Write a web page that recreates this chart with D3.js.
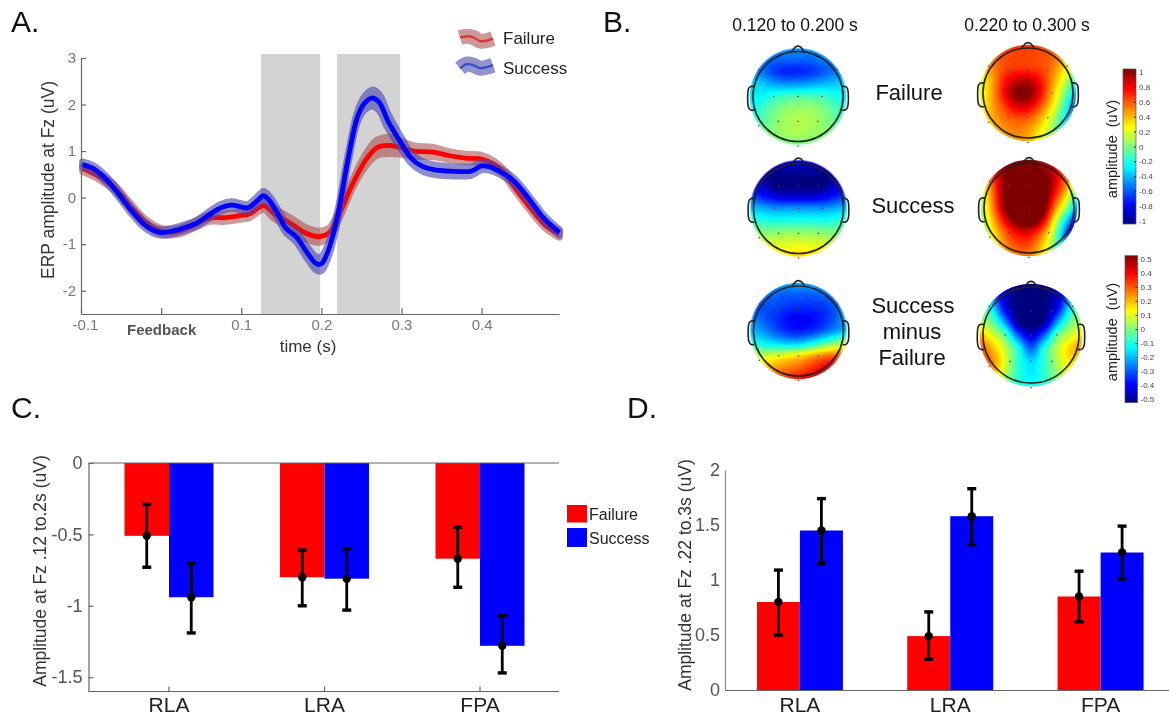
<!DOCTYPE html>
<html lang="en">
<head>
<meta charset="UTF-8">
<title>ERP figure</title>
<script src="https://d3js.org/d3.v7.min.js"></script>
<style>
  html, body { margin: 0; padding: 0; background: #fff; }
  svg { display: block; filter: blur(0.55px); }
  text { font-family: "Liberation Sans", Arial, sans-serif; }
</style>
</head>
<body>
<svg id="fig" width="1169" height="716"></svg>
<script>
// Panel A: ERP curves
var successTime = [-0.098,-0.085,-0.07,-0.055,-0.037,-0.022,-0.01,0,0.016,0.03,0.045,0.06,0.074,0.088,0.1,0.108,0.118,0.128,0.136,0.146,0.156,0.169,0.183,0.194,0.2,0.206,0.2125,0.2208,0.233,0.245,0.254,0.263,0.272,0.283,0.3,0.312,0.325,0.34,0.36,0.387,0.4,0.41,0.425,0.44,0.458,0.477,0.497];
var successErp = [0.71,0.63,0.42,0.12,-0.28,-0.56,-0.70,-0.75,-0.71,-0.64,-0.54,-0.37,-0.22,-0.16,-0.20,-0.22,-0.10,0.04,-0.08,-0.36,-0.66,-0.85,-1.20,-1.42,-1.42,-1.25,-0.93,-0.35,0.80,1.73,2.03,2.14,2.05,1.65,1.16,0.85,0.68,0.60,0.57,0.57,0.68,0.66,0.54,0.36,0,-0.43,-0.75];
var successSem = [0.06,0.06,0.06,0.06,0.06,0.06,0.06,0.06,0.06,0.06,0.06,0.07,0.07,0.07,0.07,0.07,0.08,0.09,0.09,0.09,0.09,0.1,0.12,0.14,0.15,0.14,0.12,0.09,0.08,0.1,0.14,0.17,0.17,0.15,0.12,0.1,0.1,0.1,0.1,0.09,0.08,0.07,0.06,0.06,0.06,0.06,0.06];
var failureTime = [-0.098,-0.08,-0.06,-0.04,-0.02,0,0.02,0.04,0.06,0.08,0.1,0.11,0.128,0.14,0.1625,0.179,0.197,0.21,0.22,0.24,0.258,0.27,0.287,0.3,0.316,0.34,0.36,0.38,0.4,0.415,0.43,0.44,0.46,0.48,0.497];
var failureErp = [0.62,0.48,0.24,-0.15,-0.52,-0.72,-0.73,-0.6,-0.44,-0.43,-0.38,-0.35,-0.17,-0.33,-0.56,-0.75,-0.84,-0.75,-0.45,0.33,0.87,1.08,1.12,1.07,1.0,0.98,0.9,0.85,0.83,0.72,0.5,0.25,-0.2,-0.6,-0.78];
var failureSem = [0.06,0.06,0.06,0.06,0.06,0.06,0.06,0.06,0.07,0.08,0.08,0.08,0.08,0.1,0.11,0.12,0.12,0.1,0.08,0.08,0.13,0.16,0.17,0.14,0.11,0.1,0.08,0.08,0.08,0.07,0.06,0.06,0.06,0.06,0.07];
var shadedWindows = [[0.1247,0.1984],[0.2196,0.2983]];
var erpXTicks = [-0.1,0,0.1,0.2,0.3,0.4];
var erpYTicks = [-2,-1,0,1,2,3];
var waveSteps = [0,0.2,0.4,0.6,0.8,1];
var failureWave = [0.45,0.2,0.4,1.0,0.95,0.6];
var successWave = [0.9,0.2,0.35,0.85,0.7,0.35];

// Panels C and D: bars and error bars
var conditions = ["RLA","LRA","FPA"];
var earlyFailure = [-0.51,-0.80,-0.67];
var earlySuccess = [-0.94,-0.81,-1.28];
var earlyFailureHi = [-0.29,-0.61,-0.45];
var earlyFailureLo = [-0.73,-1.00,-0.87];
var earlySuccessHi = [-0.70,-0.60,-1.07];
var earlySuccessLo = [-1.19,-1.03,-1.47];
var lateFailure = [0.80,0.49,0.85];
var lateSuccess = [1.45,1.58,1.25];
var lateFailureHi = [1.09,0.71,1.08];
var lateFailureLo = [0.50,0.28,0.62];
var lateSuccessHi = [1.74,1.83,1.49];
var lateSuccessLo = [1.15,1.32,1.01];
var earlyTicks = [0,-0.5,-1,-1.5];
var lateTicks = [0,0.5,1,1.5,2];

// Panel B: scalp maps, coarse 9 x 9 grids estimated from the colours
var mapFailureEarly = [
  [-.45,-.45,-.45,-.45,-.45,-.45,-.45,-.45,-.45],
  [-.5,-.5,-.55,-.55,-.55,-.55,-.5,-.5,-.5],
  [-.4,-.5,-.62,-.68,-.68,-.65,-.58,-.5,-.4],
  [-.3,-.35,-.42,-.45,-.45,-.42,-.38,-.35,-.3],
  [-.3,-.25,-.18,-.12,-.1,-.1,-.13,-.2,-.3],
  [-.25,-.15,-.05,.02,.05,.05,0,-.1,-.2],
  [-.2,-.1,0,.07,.1,.08,.03,-.05,-.15],
  [-.1,-.05,.02,.06,.08,.06,.03,-.03,-.1],
  [-.03,-.02,-.02,-.02,-.02,-.02,-.02,-.02,-.03]];
var mapFailureLate = [
  [.55,.6,.62,.65,.65,.62,.55,.45,.3],
  [.3,.5,.6,.62,.62,.6,.55,.38,.15],
  [.2,.45,.6,.65,.65,.62,.5,.28,.05],
  [.2,.4,.68,.85,.88,.72,.45,.15,-.2],
  [.18,.4,.72,.98,1,.75,.38,0,-.4],
  [.2,.4,.62,.82,.82,.6,.28,-.15,-.6],
  [.2,.38,.52,.6,.58,.42,.12,-.25,-.65],
  [.2,.35,.45,.5,.45,.28,.05,-.3,-.6],
  [.15,.3,.42,.45,.4,.2,0,-.25,-.45]];
var mapSuccessEarly = [
  [-.8,-.8,-.8,-.8,-.8,-.8,-.8,-.8,-.8],
  [-.85,-.9,-.95,-.95,-.95,-.95,-.95,-.9,-.85],
  [-.75,-.85,-1,-1,-1,-1,-1,-.85,-.75],
  [-.6,-.7,-.8,-.85,-.85,-.85,-.8,-.7,-.6],
  [-.35,-.4,-.45,-.45,-.45,-.45,-.45,-.4,-.35],
  [-.15,-.18,-.2,-.2,-.2,-.2,-.2,-.18,-.15],
  [0,.03,.03,.05,.05,.05,.03,0,-.03],
  [.15,.18,.2,.2,.22,.2,.2,.15,.1],
  [.25,.28,.3,.33,.35,.33,.3,.25,.2]];
var mapSuccessLate = [
  [.7,.8,.9,1,1,.9,.75,.5,.2],
  [.4,.7,.95,1.1,1.1,1,.85,.55,.2],
  [.2,.55,1,1.3,1.3,1.2,.85,.5,0],
  [.1,.5,1,1.3,1.3,1.2,.75,.3,-.2],
  [.05,.45,.95,1.3,1.3,1.15,.55,.05,-.5],
  [0,.35,.75,1.05,1.15,.9,.3,-.3,-.8],
  [-.05,.25,.55,.75,.78,.55,.1,-.55,-1],
  [0,.2,.45,.6,.6,.38,0,-.5,-.8],
  [0,.2,.4,.5,.5,.3,.05,-.3,-.5]];
var mapDiffEarly = [
  [-.2,-.2,-.2,-.2,-.2,-.2,-.2,-.2,-.2],
  [-.25,-.25,-.27,-.28,-.28,-.28,-.27,-.25,-.25],
  [-.28,-.3,-.3,-.32,-.33,-.33,-.32,-.28,-.2],
  [-.22,-.28,-.32,-.36,-.38,-.37,-.34,-.28,-.2],
  [-.18,-.22,-.28,-.33,-.35,-.33,-.28,-.22,-.17],
  [-.1,-.12,-.15,-.17,-.17,-.12,-.05,.02,.08],
  [.05,.07,.09,.12,.15,.2,.25,.28,.3],
  [.15,.18,.22,.25,.28,.33,.38,.42,.42],
  [.25,.28,.3,.33,.37,.4,.45,.45,.42]];
var mapDiffLate = [
  [-.2,-.3,-.4,-.5,-.5,-.5,-.4,-.3,-.2],
  [-.1,-.25,-.42,-.5,-.52,-.5,-.42,-.25,-.1],
  [-.02,-.12,-.38,-.5,-.55,-.5,-.38,-.12,-.02],
  [.05,-.02,-.22,-.48,-.55,-.48,-.22,-.02,.05],
  [.2,.1,-.03,-.28,-.42,-.28,-.03,.08,.15],
  [.3,.2,.07,-.1,-.28,-.1,.06,.17,.22],
  [.32,.25,.1,-.08,-.16,-.08,.05,.15,.17],
  [.33,.22,.06,-.08,-.14,-.08,.02,.1,.1],
  [.25,.12,0,-.08,-.1,-.08,-.03,.03,.05]];
var electrodeX = [-.44,0,.44,-.54,0,.54,-.44,0,.44,-.87,-.87,0,.87];
var electrodeY = [-.5,-.5,-.5,0,0,0,.55,.55,.55,-.6,.65,1.1,-.6];
var wideTicks = [1,.8,.6,.4,.2,0,-.2,-.4,-.6,-.8,-1];
var narrowTicks = [.5,.4,.3,.2,.1,0,-.1,-.2,-.3,-.4,-.5];
var jetStops = ["#00007f","#0000ff","#007fff","#00ffff","#7fff7f","#ffff00","#ff7f00","#ff0000","#7f0000"];

var RED = "#ff0000", BLUE = "#0000ff";
var svg = d3.select("#fig");

function panelLetter(s, x, y) {
  svg.append("text").attr("x", x).attr("y", y).attr("font-size", 30).attr("fill", "#111").text(s);
}
panelLetter("A.", 11, 32);
panelLetter("B.", 603, 32);
panelLetter("C.", 11, 418);
panelLetter("D.", 627, 418);

// ---------- Panel A ----------
var xErp = d3.scaleLinear().domain([-0.1, 0.4966]).range([81, 559]);
var yErp = d3.scaleLinear().domain([-2.5, 3]).range([314, 58]);
var gA = svg.append("g");

gA.selectAll("rect.win").data(shadedWindows).enter().append("rect")
  .attr("class", "win")
  .attr("x", function(d) { return xErp(d[0]); })
  .attr("width", function(d) { return xErp(d[1]) - xErp(d[0]); })
  .attr("y", 54).attr("height", 260)
  .attr("fill", "#d3d3d3");

function drawErp(time, erp, sem, lineColor, bandColor, bandOpacity) {
  var pts = time.map(function(t, i) { return {t: t, v: erp[i], s: sem[i]}; });
  var area = d3.area().curve(d3.curveCatmullRom)
    .x(function(d) { return xErp(d.t); })
    .y0(function(d) { return yErp(d.v - d.s); })
    .y1(function(d) { return yErp(d.v + d.s); });
  var line = d3.line().curve(d3.curveCatmullRom)
    .x(function(d) { return xErp(d.t); })
    .y(function(d) { return yErp(d.v); });
  gA.append("path").datum(pts).attr("d", area)
    .attr("fill", bandColor).attr("stroke", bandColor).attr("stroke-width", 7)
    .attr("stroke-linejoin", "round").attr("opacity", bandOpacity);
  gA.append("path").datum(pts).attr("d", line)
    .attr("fill", "none").attr("stroke", lineColor).attr("stroke-width", 4.8);
}
drawErp(failureTime, failureErp, failureSem, RED, "#a84444", 0.55);
drawErp(successTime, successErp, successSem, BLUE, "#4a4aae", 0.62);

var axA = gA.append("g").attr("transform", "translate(0,314)")
  .call(d3.axisBottom(xErp).tickValues(erpXTicks).tickSize(-6).tickSizeOuter(0).tickPadding(5)
    .tickFormat(function(d) { return d === 0 ? "Feedback" : d.toFixed(1); }));
axA.selectAll("text").attr("font-size", 15).attr("fill", "#777")
  .attr("font-family", "Liberation Sans");
axA.selectAll("text").filter(function(d) { return d === 0; })
  .attr("font-weight", "bold").attr("fill", "#555").attr("dy", "1.05em");
axA.selectAll("text").filter(function(d) { return d === -0.1; }).attr("dx", 4);
var ayA = gA.append("g").attr("transform", "translate(81,0)")
  .call(d3.axisLeft(yErp).tickValues(erpYTicks).tickSize(-5).tickSizeOuter(0).tickPadding(5)
    .tickFormat(function(d) { return String(d); }));
ayA.selectAll("text").attr("font-size", 15).attr("fill", "#777").attr("font-family", "Liberation Sans");
[axA, ayA].forEach(function(a) {
  a.selectAll("path,line").attr("stroke", "#666").attr("stroke-width", 1.2);
});

gA.append("text").attr("x", 308).attr("y", 351.5).attr("text-anchor", "middle")
  .attr("font-size", 17).attr("fill", "#333").text("time (s)");
gA.append("text").attr("transform", "translate(54,180) rotate(-90)").attr("text-anchor", "middle")
  .attr("font-size", 17.5).attr("fill", "#333").text("ERP amplitude at Fz (uV)");

// legend with little wavy bands
var xWave = d3.scaleLinear().domain([0, 1]).range([460, 493]);
function legendWave(wave, top, lineColor, bandColor, op, label, ty) {
  var yWave = d3.scaleLinear().domain([0, 1]).range([top, top + 6]);
  var pts = wave.map(function(v, i) { return [xWave(waveSteps[i]), yWave(v)]; });
  var l = d3.line().curve(d3.curveCatmullRom);
  gA.append("path").attr("d", l(pts)).attr("fill", "none").attr("stroke", bandColor)
    .attr("stroke-width", 15).attr("opacity", op);
  gA.append("path").attr("d", l(pts)).attr("fill", "none").attr("stroke", lineColor)
    .attr("stroke-width", 2.4).attr("opacity", 0.8);
  gA.append("text").attr("x", 503).attr("y", ty).attr("font-size", 17).attr("fill", "#222").text(label);
}
legendWave(failureWave, 35, "#e02020", "#a84444", 0.55, "Failure", 44);
legendWave(successWave, 63, "#2040c0", "#4a4aae", 0.6, "Success", 74);

// ---------- Panel B ----------
var gB = svg.append("g");
var wideColor = d3.scaleLinear().domain(d3.range(9).map(function(i) { return -1 + i * 0.25; }))
  .range(jetStops).clamp(true);
var narrowColor = d3.scaleLinear().domain(d3.range(9).map(function(i) { return -0.5 + i * 0.125; }))
  .range(jetStops).clamp(true);

function catmull(a, b, c, d, t) {
  return 0.5 * (2 * b + (c - a) * t + (2 * a - 5 * b + 4 * c - d) * t * t + (3 * b - a - 3 * c + d) * t * t * t);
}
function sampleGrid(grid, u, v) {
  var n = grid.length - 1;
  var fx = Math.max(0, Math.min(n - 1e-6, u * n)), fy = Math.max(0, Math.min(n - 1e-6, v * n));
  var ix = Math.floor(fx), iy = Math.floor(fy);
  function at(r, c) {
    return grid[Math.max(0, Math.min(n, r))][Math.max(0, Math.min(n, c))];
  }
  var col = [-1, 0, 1, 2].map(function(dr) {
    return catmull(at(iy + dr, ix - 1), at(iy + dr, ix), at(iy + dr, ix + 1), at(iy + dr, ix + 2), fx - ix);
  });
  return catmull(col[0], col[1], col[2], col[3], fy - iy);
}

function drawMap(grid, color, cx, cy, r) {
  var x = d3.scaleLinear().domain([-1, 1]).range([cx - r, cx + r]);
  var y = d3.scaleLinear().domain([-1, 1]).range([cy - r, cy + r]);
  var size = Math.ceil(r * 2.2) + 2;
  var cv = document.createElement("canvas");
  cv.width = size; cv.height = size;
  var ctx = cv.getContext("2d");
  ctx.beginPath();
  ctx.arc(size / 2, size / 2, r * 1.07, 0, 2 * Math.PI);
  ctx.clip();
  for (var py = 0; py < size; py++) {
    for (var px = 0; px < size; px++) {
      var nx = (px + 0.5 - size / 2) / r, ny = (py + 0.5 - size / 2) / r;
      if (nx * nx + ny * ny > 1.2) continue;
      ctx.fillStyle = color(sampleGrid(grid, (nx + 1.1) / 2.2, (ny + 1.1) / 2.2));
      ctx.fillRect(px, py, 1, 1);
    }
  }
  gB.append("image").attr("x", cx - size / 2).attr("y", cy - size / 2)
    .attr("width", size).attr("height", size).attr("href", cv.toDataURL());

  gB.selectAll(null).data(electrodeX).enter().append("circle")
    .attr("cx", function(d) { return x(d); })
    .attr("cy", function(d, i) { return y(electrodeY[i]); })
    .attr("r", 0.8).attr("fill", "#444");

  var head = d3.line().curve(d3.curveCatmullRom).x(function(d) { return x(d[0]); }).y(function(d) { return y(d[1]); });
  var outline = gB.append("g").attr("fill", "none").attr("stroke", "#222").attr("stroke-width", 1.6);
  outline.append("circle").attr("cx", cx).attr("cy", cy).attr("r", r);
  outline.append("path").attr("d", head([[-.15, -.98], [-.1, -1.05], [-.04, -1.11], [.04, -1.11], [.1, -1.05], [.15, -.98]]));
  outline.append("path").attr("d", head([[-.98, -.22], [-1.06, -.22], [-1.1, -.17], [-1.1, .24], [-1.05, .3], [-.98, .3]]));
  outline.append("path").attr("d", head([[.98, -.22], [1.06, -.22], [1.1, -.17], [1.1, .24], [1.05, .3], [.98, .3]]));
}
drawMap(mapFailureEarly, wideColor, 798, 96.5, 45);
drawMap(mapFailureLate, wideColor, 1028, 93, 45);
drawMap(mapSuccessEarly, wideColor, 798.5, 208.5, 45);
drawMap(mapSuccessLate, wideColor, 1029, 208, 45);
drawMap(mapDiffEarly, narrowColor, 798.5, 331, 45);
drawMap(mapDiffLate, narrowColor, 1031, 335, 48);

function bLabel(s, x, y, size) {
  gB.append("text").attr("x", x).attr("y", y).attr("text-anchor", "middle")
    .attr("font-size", size).attr("fill", "#111").text(s);
}
bLabel("0.120 to 0.200 s", 795, 31, 17.5);
bLabel("0.220 to 0.300 s", 1027, 31, 17.5);
bLabel("Failure", 909, 100, 22);
bLabel("Success", 913, 213, 22);
bLabel("Success", 913, 313, 22);
bLabel("minus", 912, 339, 22);
bLabel("Failure", 912, 365, 22);

function colorbar(id, color, extent, ticks, x0, x1, top, bottom, tickTop, tickBottom, titleY) {
  var scale = d3.scaleLinear().domain([ticks[0], ticks[ticks.length - 1]]).range([tickTop, tickBottom]);
  var grad = svg.append("defs").append("linearGradient").attr("id", id)
    .attr("x1", 0).attr("x2", 0).attr("y1", 0).attr("y2", 1);
  d3.range(0, 1.0001, 0.125).forEach(function(o) {
    grad.append("stop").attr("offset", o)
      .attr("stop-color", color(extent[0] + (extent[1] - extent[0]) * o));
  });
  gB.append("rect").attr("x", x0).attr("y", top).attr("width", x1 - x0).attr("height", bottom - top)
    .attr("fill", "url(#" + id + ")").attr("stroke", "#555").attr("stroke-width", 0.7);
  var ax = gB.append("g").attr("transform", "translate(" + x1 + ",0)")
    .call(d3.axisRight(scale).tickValues(ticks).tickSize(-2).tickPadding(3).tickFormat(function(d) { return String(d); }));
  ax.select("path").remove();
  ax.selectAll("line").attr("stroke", "#222");
  ax.selectAll("text").attr("font-size", 8).attr("fill", "#444").attr("font-family", "Liberation Sans");
  gB.append("text").attr("transform", "translate(1117," + titleY + ") rotate(-90)").attr("text-anchor", "middle")
    .attr("font-size", 14.5).attr("fill", "#222").attr("xml:space", "preserve").text("amplitude  (uV)");
}
colorbar("barWide", wideColor, [1, -1], wideTicks, 1123, 1136, 69, 224, 72, 221, 149);
colorbar("barNarrow", narrowColor, [0.5, -0.5], narrowTicks, 1125, 1137.5, 255.7, 402.7, 258.7, 399.3, 332);

// ---------- Panels C and D ----------
function drawBars(g, x, y, failure, success, failHi, failLo, succHi, succLo, barW) {
  conditions.forEach(function(c, i) {
    var mid = x(c) + x.bandwidth() / 2;
    [[failure, RED, mid - barW], [success, BLUE, mid]].forEach(function(s) {
      var v = s[0][i];
      g.append("rect").attr("x", s[2]).attr("width", barW)
        .attr("y", Math.min(y(v), y(0))).attr("height", Math.abs(y(v) - y(0)))
        .attr("fill", s[1]);
    });
  });
  conditions.forEach(function(c, i) {
    var mid = x(c) + x.bandwidth() / 2;
    [[failure, failHi, failLo, mid - barW / 2],
     [success, succHi, succLo, mid + barW / 2]].forEach(function(s) {
      var cx = s[3];
      g.append("line").attr("x1", cx).attr("x2", cx).attr("y1", y(s[1][i])).attr("y2", y(s[2][i]))
        .attr("stroke", "#000").attr("stroke-width", 2.8);
      [s[1][i], s[2][i]].forEach(function(e) {
        g.append("line").attr("x1", cx - 4.5).attr("x2", cx + 4.5).attr("y1", y(e)).attr("y2", y(e))
          .attr("stroke", "#000").attr("stroke-width", 3.4);
      });
      g.append("circle").attr("cx", cx).attr("cy", y(s[0][i])).attr("r", 4.2).attr("fill", "#000");
    });
  });
}
function styleAxis(ax, size, fill) {
  ax.selectAll("text").attr("font-size", size).attr("fill", fill).attr("font-family", "Liberation Sans");
  ax.selectAll("path,line").attr("stroke", "#666").attr("stroke-width", 1.2);
}

// C
var gC = svg.append("g");
var xC = d3.scaleBand().domain(conditions).range([91.25, 557.75]);
var yC = d3.scaleLinear().domain([-1.6, 0]).range([691.5, 463]);
drawBars(gC, xC, yC, earlyFailure, earlySuccess, earlyFailureHi, earlyFailureLo, earlySuccessHi, earlySuccessLo, 44.5);
gC.append("line").attr("x1", 88.5).attr("x2", 559).attr("y1", yC(0)).attr("y2", yC(0)).attr("stroke", "#666").attr("stroke-width", 1.2);
var axC = gC.append("g").attr("transform", "translate(0,691.5)")
  .call(d3.axisBottom(xC).tickSize(-5).tickSizeOuter(0).tickPadding(6));
axC.select("path").attr("d", "M88.5,0H559");
styleAxis(axC, 21, "#222");
var ayC = gC.append("g").attr("transform", "translate(88.5,0)")
  .call(d3.axisLeft(yC).tickValues(earlyTicks).tickSize(-5).tickSizeOuter(0).tickPadding(6).tickFormat(function(d) { return String(d); }));
styleAxis(ayC, 18, "#555");
gC.append("text").attr("transform", "translate(46,571) rotate(-90)").attr("text-anchor", "middle")
  .attr("font-size", 17.5).attr("fill", "#333").text("Amplitude at Fz .12 to.2s (uV)");

gC.append("rect").attr("x", 567).attr("y", 505).attr("width", 20).attr("height", 17.5).attr("fill", RED);
gC.append("rect").attr("x", 567).attr("y", 528).attr("width", 20).attr("height", 19).attr("fill", BLUE);
gC.append("text").attr("x", 589).attr("y", 520).attr("font-size", 16).attr("fill", "#222").text("Failure");
gC.append("text").attr("x", 589).attr("y", 544).attr("font-size", 16).attr("fill", "#222").text("Success");

// D
var gD = svg.append("g");
var xD = d3.scaleBand().domain(conditions).range([724.75, 1175.75]);
var yD = d3.scaleLinear().domain([0, 2]).range([690, 470]);
drawBars(gD, xD, yD, lateFailure, lateSuccess, lateFailureHi, lateFailureLo, lateSuccessHi, lateSuccessLo, 43);
var axD = gD.append("g").attr("transform", "translate(0,690)")
  .call(d3.axisBottom(xD).tickSize(0).tickPadding(7));
styleAxis(axD, 21, "#222");
var ayD = gD.append("g").attr("transform", "translate(725,0)")
  .call(d3.axisLeft(yD).tickValues(lateTicks).tickSize(0).tickPadding(5).tickFormat(function(d) { return String(d); }));
styleAxis(ayD, 18, "#555");
ayD.select("path").attr("stroke", "#888");
gD.append("text").attr("transform", "translate(691,575) rotate(-90)").attr("text-anchor", "middle")
  .attr("font-size", 17.5).attr("fill", "#333").text("Amplitude at Fz .22 to.3s (uV)");
</script>
</body>
</html>
